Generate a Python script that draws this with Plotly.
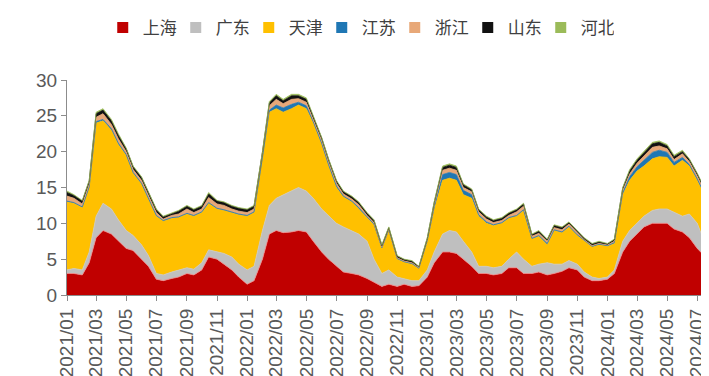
import pandas as pd
import plotly.graph_objects as go

# semi-monthly points, Jan 2021 - Aug 2024
dates = list(pd.date_range("2021-01-01", "2024-08-01", freq="SMS")) + [pd.Timestamp("2024-08-10")]

shanghai = [3, 3, 2.8, 4.5, 8, 9, 8.5, 7.5, 6.5, 6.2, 5, 4, 2.2, 2, 2.3, 2.5, 3, 2.8, 3.5, 5.3, 5, 4.3, 3.5, 2.5,
            1.5, 2, 5, 8.5, 9, 8.7, 8.8, 9, 8.8, 7.5, 6, 5, 4, 3.2, 3, 2.8, 2.3, 1.8, 1.2, 1.5, 1.2, 1.5, 1.2, 1.3,
            2.5, 4.5, 6, 6, 5.8, 5, 4, 3, 3, 2.8, 3, 3.8, 3.8, 3, 3, 3.2, 2.8, 3, 3.3, 3.8, 3.5, 2.5, 2, 2,
            2.2, 3, 6, 7.5, 8.5, 9.5, 10, 10, 10, 9.2, 8.8, 8, 6.5, 5.5, 5.5, 5]
guangdong = [0.5, 0.7, 0.7, 1.5, 3, 3.8, 3.5, 3, 2.5, 2.1, 2, 1.5, 0.8, 0.8, 0.9, 1, 0.8, 0.8, 1, 1, 1, 1.5, 1.8, 1.8,
             2, 2, 4, 4, 4.5, 5.3, 5.7, 6, 5.7, 6, 6, 6, 6, 6.3, 6, 5.7, 5.2, 3.2, 1.8, 2, 1.3, 0.8, 0.8, 0.7,
             1, 1.5, 2.5, 3, 3, 2.5, 2, 1, 1, 1, 1, 1.2, 2.2, 2, 1, 1.1, 1.7, 1.3, 1, 1, 0.8, 0.7, 0.5, 0.3,
             0.3, 0.5, 1.5, 1.5, 1.5, 1.5, 1.8, 2, 2, 2.3, 2.2, 3.3, 3.5, 2, 1.5, 1.5]
tianjin = [9.5, 9.1, 8.7, 9, 13, 11.5, 11, 10.5, 10.5, 8.7, 8.5, 8, 8, 7.5, 7.5, 7.3, 7.5, 7.4, 7, 6.5, 6, 6, 6.2, 6.9,
           7.5, 7.5, 10, 13, 12.5, 11.5, 11.5, 11.5, 11.5, 10.5, 9, 7, 5, 4.2, 4, 3.5, 3.3, 4.8, 3.5, 5.5, 2.5, 2.3, 2.3, 1.7,
           4, 6, 7.5, 7.3, 7.2, 6.5, 7.5, 7, 6, 5.9, 6, 5.7, 5, 6.8, 3.8, 3.9, 2.5, 4.7, 4.4, 4.7, 4, 4.3, 4.2, 4.7,
           4.3, 3.7, 6.5, 7, 7.3, 7, 7.2, 7.3, 7.2, 6.5, 7.8, 6.7, 6, 6.5, 5, 5.2]
jiangsu = [0.1, 0.1, 0.1, 0.1, 0.2, 0.2, 0.2, 0.2, 0.1, 0.1, 0.1, 0.1, 0.1, 0.1, 0.1, 0.1, 0.1, 0.1, 0.1, 0.1, 0.1, 0.1, 0.1, 0.1,
           0.1, 0.1, 0.2, 0.3, 0.5, 0.6, 0.6, 0.4, 0.4, 0.2, 0.2, 0.2, 0.2, 0.1, 0.1, 0.2, 0.1, 0.1, 0.1, 0.1, 0.1, 0.05, 0.1, 0.05,
           0.1, 0.3, 0.8, 0.8, 0.8, 0.6, 0.5, 0.2, 0.2, 0.1, 0.1, 0.1, 0.1, 0.1, 0.1, 0.1, 0.2, 0.1, 0.1, 0.1, 0.1, 0.1, 0.1, 0.1,
           0.1, 0.1, 0.3, 0.5, 0.6, 0.8, 0.9, 0.9, 0.7, 0.5, 0.4, 0.2, 0.2, 0.2, 0.2, 0.1]
zhejiang = [0.7, 0.6, 0.4, 0.4, 0.6, 0.8, 0.6, 0.6, 0.4, 0.4, 0.4, 0.4, 0.4, 0.2, 0.3, 0.4, 0.6, 0.4, 0.4, 0.7, 0.6, 0.6, 0.4, 0.4,
            0.4, 0.4, 0.4, 0.6, 0.8, 0.6, 0.7, 0.5, 0.5, 0.4, 0.4, 0.4, 0.4, 0.3, 0.3, 0.4, 0.2, 0.2, 0.1, 0.1, 0.1, 0.1, 0.1, 0.1,
            0.1, 0.3, 0.6, 0.6, 0.6, 0.4, 0.4, 0.4, 0.4, 0.3, 0.3, 0.3, 0.5, 0.5, 0.3, 0.3, 0.3, 0.3, 0.3, 0.3, 0.3, 0.1, 0.1, 0.1,
            0.1, 0.2, 0.3, 0.4, 0.5, 0.6, 0.7, 0.6, 0.5, 0.4, 0.5, 0.4, 0.4, 0.4, 0.4, 0.3]
shandong = [0.5, 0.4, 0.4, 0.4, 0.5, 0.5, 0.5, 0.5, 0.4, 0.4, 0.4, 0.4, 0.4, 0.3, 0.3, 0.4, 0.4, 0.4, 0.4, 0.5, 0.4, 0.4, 0.4, 0.4,
            0.4, 0.4, 0.3, 0.4, 0.5, 0.4, 0.5, 0.4, 0.4, 0.3, 0.3, 0.3, 0.3, 0.3, 0.3, 0.3, 0.3, 0.3, 0.2, 0.2, 0.2, 0.2, 0.2, 0.1,
            0.2, 0.3, 0.4, 0.4, 0.4, 0.4, 0.3, 0.3, 0.3, 0.3, 0.3, 0.3, 0.3, 0.3, 0.2, 0.3, 0.2, 0.3, 0.3, 0.2, 0.2, 0.2, 0.2, 0.2,
            0.1, 0.2, 0.3, 0.4, 0.4, 0.4, 0.5, 0.5, 0.4, 0.4, 0.3, 0.3, 0.3, 0.3, 0.3, 0.3]
hebei = [0.2, 0.1, 0.1, 0.1, 0.2, 0.2, 0.2, 0.2, 0.1, 0.1, 0.1, 0.1, 0.1, 0.1, 0.1, 0.1, 0.1, 0.1, 0.1, 0.2, 0.1, 0.1, 0.1, 0.1,
         0.1, 0.1, 0.1, 0.2, 0.2, 0.2, 0.2, 0.2, 0.2, 0.1, 0.1, 0.1, 0.1, 0.1, 0.1, 0.1, 0.1, 0.1, 0.1, 0.1, 0.1, 0.05, 0.1, 0.05,
         0.1, 0.1, 0.2, 0.2, 0.2, 0.1, 0.1, 0.1, 0.1, 0.1, 0.1, 0.1, 0.1, 0.1, 0.1, 0.1, 0.1, 0.1, 0.1, 0.1, 0.1, 0.1, 0.1, 0.1,
         0.1, 0.1, 0.1, 0.2, 0.2, 0.2, 0.2, 0.2, 0.2, 0.2, 0.2, 0.1, 0.1, 0.1, 0.1, 0.1]

series = [
    ("上海", shanghai, "#C00000", "#F08080"),
    ("广东", guangdong, "#BFBFBF", "#C8C8C8"),
    ("天津", tianjin, "#FFC000", "#FFC000"),
    ("江苏", jiangsu, "#1F77B4", "#1F77B4"),
    ("浙江", zhejiang, "#E8A878", "#E8A878"),
    ("山东", shandong, "#111111", "#111111"),
    ("河北", hebei, "#9BBB59", "#9BBB59"),
]

fig = go.Figure()
for name, vals, color, edge in series:
    # stacked area, no legend entry (legend is built from square markers below)
    fig.add_trace(go.Scatter(
        x=dates, y=vals, name=name, stackgroup="one", mode="lines",
        line=dict(width=0.8, color=edge), fillcolor=color, showlegend=False,
    ))
    fig.add_trace(go.Scatter(
        x=[None], y=[None], name=name, mode="markers",
        marker=dict(symbol="square", size=11, color=color),
    ))

tick_font = dict(family="Liberation Sans, Arial", size=19, color="#595959")

fig.update_layout(
    width=709, height=376,
    margin=dict(l=59, r=0, t=72, b=89, autoexpand=False),
    plot_bgcolor="white", paper_bgcolor="white",
    legend=dict(
        orientation="h", traceorder="normal",
        x=0.494, xref="container", xanchor="center",
        y=0.947, yref="container", yanchor="middle",
        font=dict(family="Noto Sans CJK SC", size=17, color="#404040"),
        itemwidth=30, tracegroupgap=0,
        entrywidth=28, entrywidthmode="pixels",
    ),
)
fig.update_xaxes(
    range=[dates[0], dates[-1]],
    tickmode="linear", tick0="2021-01-01", dtick="M2", tickformat="%Y/%m",
    tickangle=-90, tickfont=tick_font,
    showline=True, linecolor="#8C8C8C", linewidth=1,
    ticks="outside", ticklen=5, tickcolor="#8C8C8C",
    showgrid=False, zeroline=False,
)
fig.update_yaxes(
    range=[0, 30], tickmode="linear", tick0=0, dtick=5,
    tickfont=tick_font,
    showline=True, linecolor="#8C8C8C", linewidth=1,
    ticks="outside", ticklen=5, tickcolor="#8C8C8C",
    showgrid=False, zeroline=False,
)

fig.write_html("out.html")
